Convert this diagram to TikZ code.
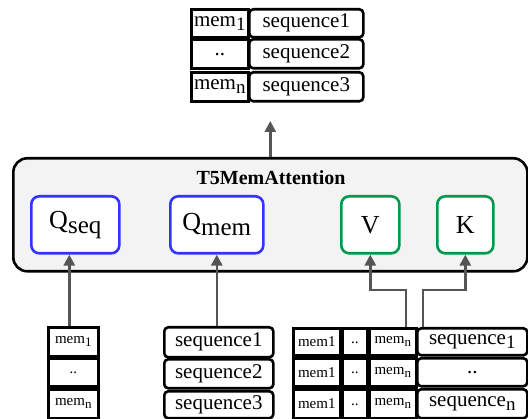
\documentclass[tikz,border=0pt]{standalone}
\usepackage{fontspec}
\setmainfont{Liberation Serif}
\usetikzlibrary{arrows.meta}
\definecolor{qblue}{HTML}{3333FF}
\definecolor{kgreen}{HTML}{00994D}
\definecolor{arrgray}{HTML}{555555}
\definecolor{bgfill}{HTML}{F3F3F3}
\newcommand\fs[1]{\fontsize{#1}{#1}\selectfont}
\newcommand\lowtxt[3]{\raisebox{-#1pt}{\fs{#2}#3}}
\begin{document}
\begin{tikzpicture}[x=1pt,y=-1pt,
  cellbox/.style={draw, line width=2.6pt, inner sep=0pt, anchor=north west, fill=white, font=\fs{21}},
  smallcell/.style={cellbox, font=\fs{15}},
  seqbox/.style={cellbox, rounded corners=4pt},
  qbox/.style={draw=qblue, line width=2.6pt, rounded corners=8pt, fill=white, inner sep=0pt, anchor=north west, font=\fs{26}},
  kvbox/.style={qbox, draw=kgreen},
  bigbox/.style={draw, line width=2.6pt, rounded corners=14pt, fill=bgfill, inner sep=0pt, anchor=north west},
  arr/.style={draw=arrgray, line width=2.6pt, -{Triangle[length=11pt,width=11pt]}}]
\useasboundingbox (0,0) rectangle (528,419);
% top table
\node[cellbox, minimum width=57pt, minimum height=28pt] (tm1) at (190,8) {mem\lowtxt{4}{19}{1}};
\node[seqbox, minimum width=114pt, minimum height=28pt] (ts1) at (248,8) {sequence1};
\node[cellbox, minimum width=57pt, minimum height=29pt] (tm2) at (190,38) {\raisebox{-3pt}{..}};
\node[seqbox, minimum width=114pt, minimum height=29pt] (ts2) at (248,38) {sequence2};
\node[cellbox, minimum width=57pt, minimum height=29pt] (tm3) at (190,71) {mem\lowtxt{4}{19}{n}};
\node[seqbox, minimum width=114pt, minimum height=29pt] (ts3) at (248,71) {sequence3};
% attention block
\node[bigbox, minimum width=514pt, minimum height=113pt] (att) at (12,157) {};
\node[font=\fs{20}\bfseries, inner sep=0pt] (title) at (271,178) {T5MemAttention};
\node[qbox, minimum width=88pt, minimum height=57pt] (qseq) at (30,195) {Q\lowtxt{5}{25}{seq}};
\node[qbox, minimum width=93pt, minimum height=57pt] (qmem) at (169,195) {Q\lowtxt{5}{25}{mem}};
\node[kvbox, minimum width=58pt, minimum height=57pt] (vbox) at (340,195) {V};
\node[kvbox, minimum width=56pt, minimum height=57pt] (kbox) at (436,195) {K};
% bottom left memory
\node[smallcell, minimum width=50pt, minimum height=29pt] (bm1) at (47,326) {mem\lowtxt{3}{13}{1}};
\node[smallcell, minimum width=50pt, minimum height=28pt] (bm2) at (47,357) {\raisebox{-3pt}{..}};
\node[smallcell, minimum width=50pt, minimum height=29pt] (bm3) at (47,388) {mem\lowtxt{3}{13}{n}};
% bottom middle sequences
\node[seqbox, minimum width=109pt, minimum height=30pt] (bs1) at (163,326) {sequence1};
\node[seqbox, minimum width=109pt, minimum height=29pt] (bs2) at (163,358) {sequence2};
\node[seqbox, minimum width=109pt, minimum height=27pt] (bs3) at (163,390) {sequence3};
% bottom right combined
\node[smallcell, minimum width=47pt, minimum height=27pt] (ra1) at (292,327) {mem1};
\node[smallcell, minimum width=25pt, minimum height=27pt] (rb1) at (341,327) {\raisebox{-3pt}{..}};
\node[smallcell, minimum width=47pt, minimum height=27pt] (rc1) at (368,327) {mem\lowtxt{3}{13}{n}};
\node[seqbox, minimum width=110pt, minimum height=27pt] (rd1) at (416,327) {sequence\lowtxt{4}{19}{1}};
\node[smallcell, minimum width=47pt, minimum height=28pt] (ra2) at (292,357) {mem1};
\node[smallcell, minimum width=25pt, minimum height=28pt] (rb2) at (341,357) {\raisebox{-3pt}{..}};
\node[smallcell, minimum width=47pt, minimum height=28pt] (rc2) at (368,357) {mem\lowtxt{3}{13}{n}};
\node[seqbox, minimum width=110pt, minimum height=28pt] (rd2) at (416,357) {\raisebox{-3pt}{..}};
\node[smallcell, minimum width=47pt, minimum height=29pt] (ra3) at (292,388) {mem1};
\node[smallcell, minimum width=25pt, minimum height=29pt] (rb3) at (341,388) {\raisebox{-3pt}{..}};
\node[smallcell, minimum width=47pt, minimum height=29pt] (rc3) at (368,388) {mem\lowtxt{3}{13}{n}};
\node[seqbox, minimum width=110pt, minimum height=29pt] (rd3) at (416,388) {sequence\lowtxt{4}{19}{n}};
% connectors
\coordinate (toptip) at (268,121);
\coordinate (vk) at (0,290);
\draw[arr] (att.north) -- (att.north |- toptip);
\draw[arr] ([xshift=-4pt]bm1.north) -- ([xshift=-4pt]bm1.north |- qseq.south);
\draw[arr] (qmem.south |- bs1.north) -- (qmem.south);
\draw[arr] ([xshift=13pt]rc1.north) -- ([xshift=13pt]rc1.north |- vk) -| (vbox.south);
\draw[arr] ([xshift=7pt]rd1.north west) -- ([xshift=7pt]rd1.north west |- vk) -| (kbox.south);
\end{tikzpicture}
\end{document}
